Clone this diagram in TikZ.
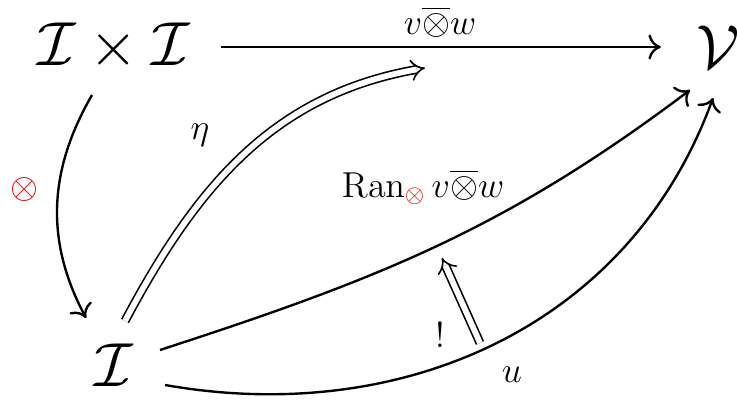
\documentclass[tikz,border=0pt]{standalone}
\usepackage{amsmath}
\usetikzlibrary{arrows.meta}
\definecolor{otred}{RGB}{240,0,0}
\newcommand{\myvow}{v\overline{\otimes}w}
\begin{document}
\begin{tikzpicture}[x=0.4pt,y=0.4pt,
  obj/.style={font=\Huge, inner sep=0pt},
  lbl/.style={font=\Large, inner sep=0pt},
  arr/.style={line width=0.95pt, -{Computer Modern Rightarrow[length=5pt,width=10pt]}},
  dbl/.style={line width=0.65pt, double, double distance=2.3pt, -{Implies[scale=1.3]}}]
\useasboundingbox (0,0) rectangle (737,411);
\node[obj] (ixi) at (114,364) {$\mathcal{I}\times\mathcal{I}$};
\node[obj] (V) at (718,364) {$\mathcal{V}$};
\node[obj] (I) at (114,46) {$\mathcal{I}$};
\coordinate (etaend) at (425,343);
\coordinate (bs) at (480,68);
\coordinate (be) at (442,153);
% top
\draw[arr, shorten <=12pt, shorten >=14pt] (ixi) -- (V);
\node[lbl] (ltop) at (440,389) {$\myvow$};
% left
\draw[arr] ([shift={(-22,-48)}]ixi.center) to[out=240,in=118] ([shift={(-28,47)}]I.center);
\node[lbl, text=otred] (lot) at (24,221) {$\otimes$};
% eta
\draw[dbl] ([shift={(11,44)}]I.center) to[out=62,in=190] (etaend);
\node[lbl] (leta) at (200,276) {$\eta$};
% Ran
\draw[arr] ([shift={(46,15)}]I.center) to[out=18,in=217] ([shift={(-28,-43)}]V.center);
\node[lbl] (lran) at (423,224) {$\operatorname{Ran}_{\textcolor{otred}{\otimes}} \myvow$};
% u
\draw[arr] ([shift={(51,-20)}]I.center) to[out=-10,in=250] ([shift={(-5,-51)}]V.center);
\node[lbl] (lu) at (512,36) {$u$};
% !
\draw[dbl] (bs) -- (be);
\node[lbl] (lbang) at (440,76) {$!$};
\end{tikzpicture}
\end{document}
